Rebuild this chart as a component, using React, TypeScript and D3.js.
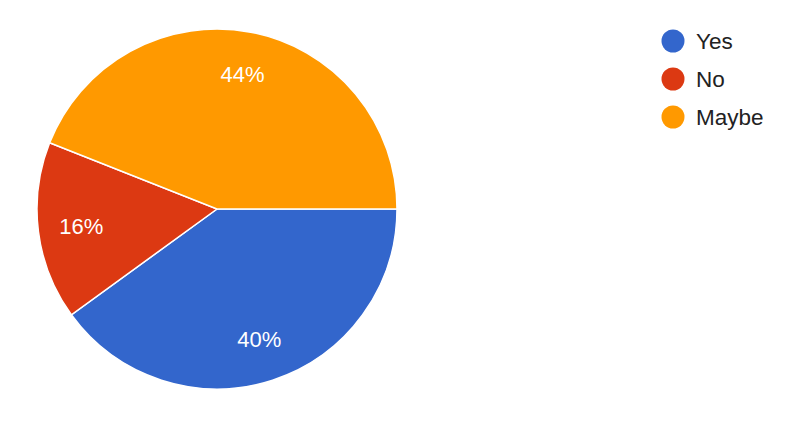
import { useEffect, useRef } from 'react';
import * as d3 from 'd3';

const categories = ['Yes', 'No', 'Maybe'];
const counts = [10, 4, 11];
const colors = ['#3366cc', '#dc3912', '#ff9900'];

const W = 800;
const H = 422;
const CX = 217;
const CY = 209;
const R = 180;

export default function App() {
  const svgRef = useRef<SVGSVGElement>(null);

  useEffect(() => {
    const svg = d3.select(svgRef.current);
    svg.selectAll('*').remove();

    const total = d3.sum(counts);
    const pie = d3.pie<number>()
      .sort(null)
      .startAngle(Math.PI / 2)
      .endAngle(Math.PI / 2 + 2 * Math.PI);
    const arcs = pie(counts);

    const arc = d3.arc<d3.PieArcDatum<number>>().innerRadius(0).outerRadius(R);
    const labelArc = d3.arc<d3.PieArcDatum<number>>().innerRadius(R * 0.76).outerRadius(R * 0.76);

    const g = svg.append('g').attr('transform', `translate(${CX},${CY})`);

    g.selectAll('path.slice')
      .data(arcs)
      .enter()
      .append('path')
      .attr('class', 'slice')
      .attr('d', arc)
      .attr('fill', (_, i) => colors[i])
      .attr('stroke', '#ffffff')
      .attr('stroke-width', 1.5);

    g.selectAll('text.pct')
      .data(arcs)
      .enter()
      .append('text')
      .attr('class', 'pct')
      .attr('transform', (d) => `translate(${labelArc.centroid(d)})`)
      .attr('text-anchor', 'middle')
      .attr('dy', '0.35em')
      .attr('fill', '#ffffff')
      .attr('font-family', 'Arial, "Liberation Sans", sans-serif')
      .attr('font-size', '22px')
      .text((d) => `${Math.round((d.data / total) * 100)}%`);

    // Legend
    const legend = svg.append('g').attr('transform', 'translate(673,41)');
    const item = legend.selectAll('g.item')
      .data(categories)
      .enter()
      .append('g')
      .attr('class', 'item')
      .attr('transform', (_, i) => `translate(0,${i * 38})`);

    item.append('circle')
      .attr('r', 11.5)
      .attr('fill', (_, i) => colors[i]);

    item.append('text')
      .attr('x', 23)
      .attr('dy', '0.36em')
      .attr('fill', '#222222')
      .attr('font-family', 'Arial, "Liberation Sans", sans-serif')
      .attr('font-size', '22.5px')
      .text((d) => d);
  }, []);

  return (
    <svg
      ref={svgRef}
      width={W}
      height={H}
      style={{ position: 'absolute', left: 0, top: 0, background: '#ffffff' }}
    />
  );
}
